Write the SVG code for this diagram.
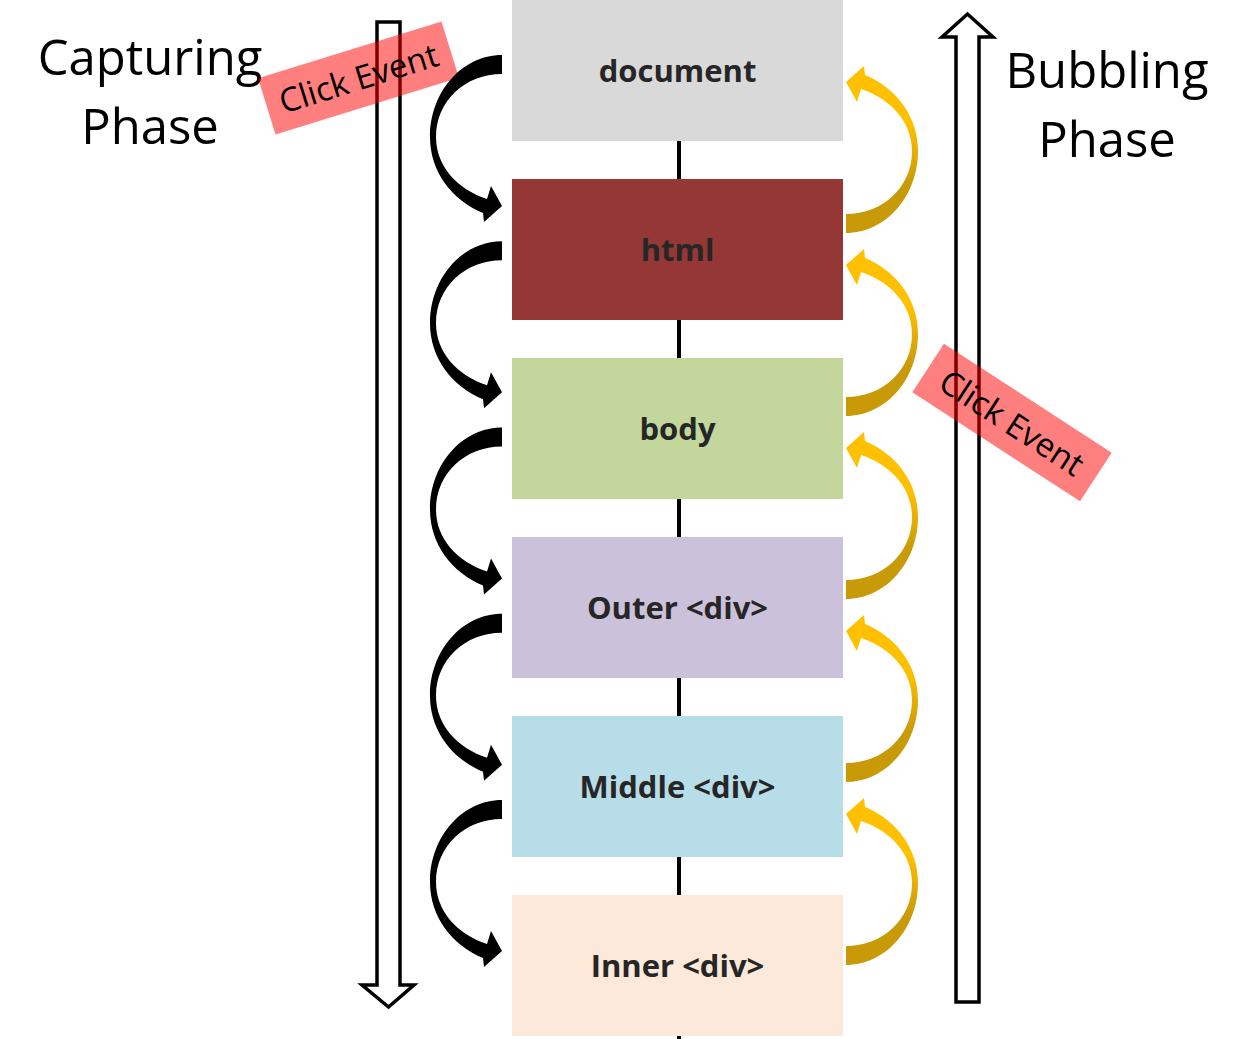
<svg xmlns="http://www.w3.org/2000/svg" xmlns:xlink="http://www.w3.org/1999/xlink" width="1246" height="1039" viewBox="0 0 1246 1039">
<style>
.box text{font-family:"Open Sans","Liberation Sans",sans-serif;font-weight:700;font-size:31px;fill:#262626;text-anchor:middle}
.phase{font-family:"Open Sans","Liberation Sans",sans-serif;font-size:49px;fill:#000;text-anchor:middle}
.lbl{font-family:"Open Sans","Liberation Sans",sans-serif;font-size:33px;fill:#000;text-anchor:middle}
.hollow{fill:#fff;stroke:#000;stroke-width:3.5;stroke-linejoin:miter}
.tag{fill:#ff0000;fill-opacity:0.5}
.blk{fill:#000}
.ylw{fill:url(#yg)}
</style>
<defs>
<linearGradient id="yg" x1="0" y1="0" x2="0" y2="1">
<stop offset="0.3" stop-color="#c99a08"/>
<stop offset="0.65" stop-color="#ffc000"/>
</linearGradient>
<path id="carrow" d="M502,55 C462,55 430,92 430,137 C430,172 452,200 483,213 L484,222 L502,206 L491,186 L487,199 C457,189 436,166 436,137 C436,101 465,74 502,74 Z"/>
</defs>

<g id="phase-labels">
<text class="phase" x="150" y="75">Capturing</text>
<text class="phase" x="150" y="144">Phase</text>
<text class="phase" x="1107" y="88">Bubbling</text>
<text class="phase" x="1107" y="157">Phase</text>
</g>

<g id="capture-arrow">
<path class="hollow" d="M377,22 H400 V985 H414 L388.5,1007 L362,985 H377 Z"/>
</g>
<g id="bubble-arrow">
<path class="hollow" d="M956,1002 H979 V37 H993 L967.5,14 L942,37 H956 Z"/>
</g>

<g id="click-event-capture" transform="translate(358.5,78) rotate(-17.2)">
<rect class="tag" x="-96" y="-29.5" width="192" height="59"/>
<text class="lbl" x="0" y="12">Click Event</text>
</g>
<g id="click-event-bubble" transform="translate(1012,422.5) rotate(33)">
<rect class="tag" x="-100" y="-29" width="200" height="58"/>
<text class="lbl" x="0" y="12">Click Event</text>
</g>

<g id="connectors">
<line x1="679" y1="141" x2="679" y2="1039" stroke="#000" stroke-width="4"/>
<use xlink:href="#carrow" class="blk"/>
<use xlink:href="#carrow" class="blk" transform="translate(0,186.25)"/>
<use xlink:href="#carrow" class="blk" transform="translate(0,372.5)"/>
<use xlink:href="#carrow" class="blk" transform="translate(0,558.75)"/>
<use xlink:href="#carrow" class="blk" transform="translate(0,745)"/>
<use xlink:href="#carrow" class="ylw" transform="rotate(180,674,144)"/>
<use xlink:href="#carrow" class="ylw" transform="translate(0,183) rotate(180,674,144)"/>
<use xlink:href="#carrow" class="ylw" transform="translate(0,366) rotate(180,674,144)"/>
<use xlink:href="#carrow" class="ylw" transform="translate(0,549) rotate(180,674,144)"/>
<use xlink:href="#carrow" class="ylw" transform="translate(0,732) rotate(180,674,144)"/>
</g>

<g id="document" class="box">
<rect x="512" y="0" width="331" height="141" fill="#d9d9d9"/>
<text x="677.5" y="82">document</text>
</g>
<g id="html" class="box">
<rect x="512" y="179" width="331" height="141" fill="#953735"/>
<text x="677.5" y="261">html</text>
</g>
<g id="body" class="box">
<rect x="512" y="358" width="331" height="141" fill="#c3d69b"/>
<text x="677.5" y="440">body</text>
</g>
<g id="outer-div" class="box">
<rect x="512" y="537" width="331" height="141" fill="#ccc1da"/>
<text x="677.5" y="619">Outer &lt;div&gt;</text>
</g>
<g id="middle-div" class="box">
<rect x="512" y="716" width="331" height="141" fill="#b7dde8"/>
<text x="677.5" y="798">Middle &lt;div&gt;</text>
</g>
<g id="inner-div" class="box">
<rect x="512" y="895" width="331" height="141" fill="#fde9d9"/>
<text x="677.5" y="977">Inner &lt;div&gt;</text>
</g>
</svg>
